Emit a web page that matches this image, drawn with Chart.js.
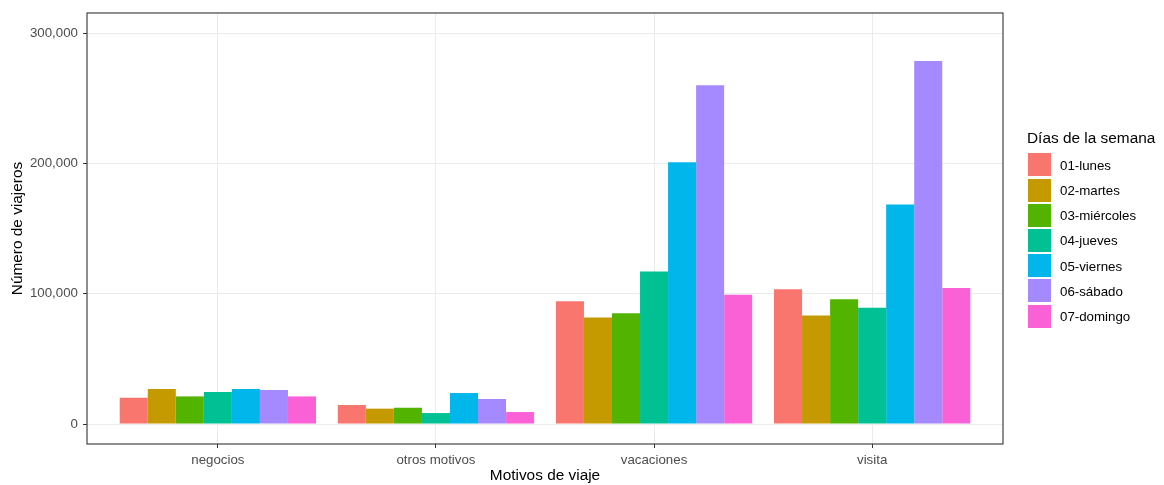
<!DOCTYPE html>
<html>
<head>
<meta charset="utf-8">
<script src="https://cdn.jsdelivr.net/npm/chart.js@4/dist/chart.umd.min.js"></script>
<style>
  body { margin: 0; background: #fff; font-family: "Liberation Sans", Arial, sans-serif; }
  #wrap { position: relative; width: 1164px; height: 485px; }
  #legend { position: absolute; left: 1027px; top: 0; }
  #legend .title { position: absolute; left: 0; top: 129.3px; font-size: 15.4px; line-height: 18px; color: #000; white-space: nowrap; }
  #legend .item { position: absolute; left: 0; height: 23px; white-space: nowrap; }
  #legend .box { position: absolute; left: 1px; top: 0; width: 23px; height: 23px; }
  #legend .lbl { position: absolute; left: 33px; top: 0.5px; font-size: 13.3px; line-height: 23px; color: #000; }
</style>
</head>
<body>
<div id="wrap">
  <canvas id="chart"></canvas>
  <div id="legend"></div>
</div>
<script>
const categories = ["negocios", "otros motivos", "vacaciones", "visita"];
const days = ["01-lunes", "02-martes", "03-miércoles", "04-jueves", "05-viernes", "06-sábado", "07-domingo"];

const lunes     = [20200, 14600, 94200, 103600];
const martes    = [26900, 11800, 81900, 83400];
const miercoles = [21200, 12500, 85000, 95900];
const jueves    = [24600, 8400, 117200, 89300];
const viernes   = [26900, 23800, 201100, 168600];
const sabado    = [26100, 19200, 260200, 278800];
const domingo   = [21200, 9200, 99200, 104400];

const yTicks = [0, 100000, 200000, 300000];
const colors = ["#F8766D", "#C49A00", "#53B400", "#00C094", "#00B6EB", "#A58AFF", "#FB61D7"];

const series = [lunes, martes, miercoles, jueves, viernes, sabado, domingo];

// legend, ggplot style
const legend = document.getElementById("legend");
legend.innerHTML = '<div class="title">Días de la semana</div>';
days.forEach((d, i) => {
    const item = document.createElement("div");
    item.className = "item";
    item.style.top = (153.3 + i * 25.2) + "px";
    item.innerHTML = `<div class="box" style="background:${colors[i]}"></div><div class="lbl">${d}</div>`;
    legend.appendChild(item);
});

const panelBorder = {
    id: "panelBorder",
    afterDraw(chart) {
        const a = chart.chartArea;
        const ctx = chart.ctx;
        ctx.save();
        ctx.strokeStyle = "#333333";
        ctx.lineWidth = 1.1;
        ctx.strokeRect(a.left, a.top, a.right - a.left, a.bottom - a.top);
        ctx.restore();
    }
};

const ctx = document.getElementById("chart").getContext("2d");

new Chart(ctx, {
    type: "bar",
    data: {
        datasets: series.map((vals, i) => ({
            label: days[i],
            data: vals.map((v, j) => ({ x: j, y: v })),
            backgroundColor: colors[i],
            borderWidth: 0,
            categoryPercentage: 0.9,
            barPercentage: 1.0
        }))
    },
    options: {
        responsive: true,
        maintainAspectRatio: false,
        animation: false,
        layout: { padding: { left: 0, right: 161, top: 12.5, bottom: 0 } },
        plugins: {
            legend: { display: false },
            tooltip: { enabled: false }
        },
        scales: {
            x: {
                type: "linear",
                min: -0.6,
                max: 3.6,
                offset: false,
                afterBuildTicks: (scale) => { scale.ticks = categories.map((c, i) => ({ value: i })); },
                afterFit: (scale) => { scale.height = 41; },
                ticks: {
                    autoSkip: false,
                    maxRotation: 0,
                    padding: 4,
                    color: "#4d4d4d",
                    font: { family: "Liberation Sans", size: 13.3 },
                    callback: (v) => categories[v]
                },
                grid: { offset: false, color: "#ebebeb", lineWidth: 1, tickColor: "#333333", tickLength: 4 },
                border: { display: false },
                title: {
                    display: true,
                    text: "Motivos de viaje",
                    color: "#000",
                    font: { family: "Liberation Sans", size: 15.4, lineHeight: 1 },
                    padding: { top: 0, bottom: 1.9 }
                }
            },
            y: {
                min: -15350,
                max: 315700,
                afterBuildTicks: (scale) => { scale.ticks = yTicks.map(v => ({ value: v })); },
                afterFit: (scale) => { scale.width = 87; },
                ticks: {
                    padding: 5,
                    color: "#4d4d4d",
                    font: { family: "Liberation Sans", size: 13.3 },
                    callback: (v) => v.toLocaleString("en-US")
                },
                grid: { color: "#ebebeb", lineWidth: 1, tickColor: "#333333", tickLength: 4 },
                border: { display: false },
                title: {
                    display: true,
                    text: "Número de viajeros",
                    color: "#000",
                    font: { family: "Liberation Sans", size: 15.4, lineHeight: 1 },
                    padding: { top: 10.4, bottom: 0 }
                }
            }
        }
    },
    plugins: [panelBorder]
});
</script>
</body>
</html>
